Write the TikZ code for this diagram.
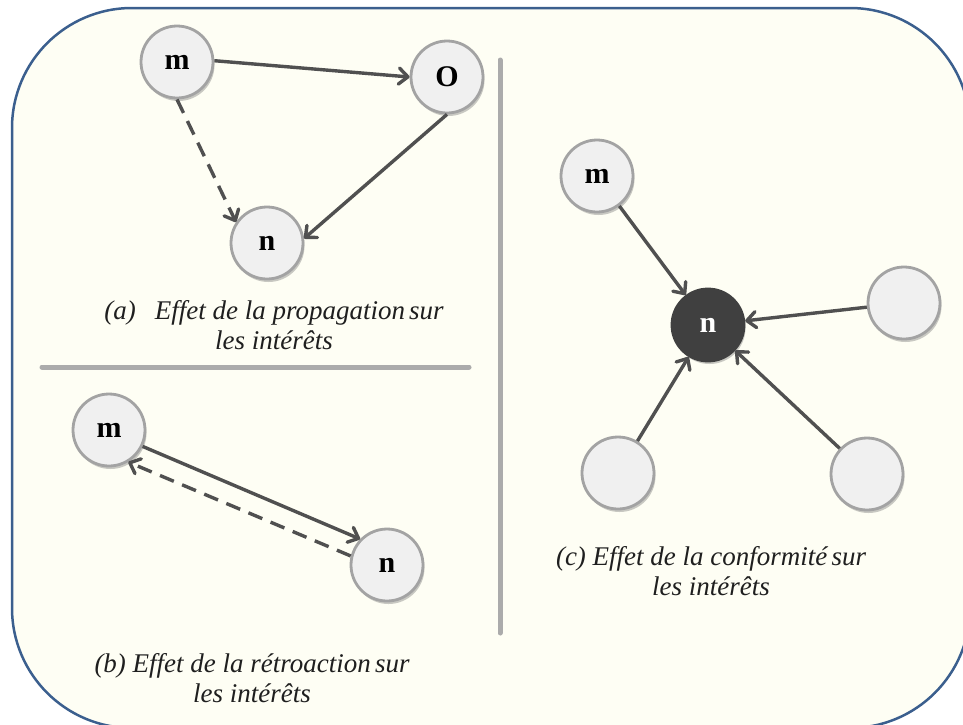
\documentclass[tikz,border=0pt]{standalone}
\usepackage{fontspec}
\setmainfont{Liberation Serif}
\usetikzlibrary{arrows.meta,shadows}
\definecolor{framec}{HTML}{3B5F8E}
\definecolor{paperc}{HTML}{FEFEF4}
\definecolor{nodefillc}{HTML}{F0F0F0}
\definecolor{nodelinec}{HTML}{A3A3A3}
\definecolor{edgec}{HTML}{505050}
\definecolor{sepc}{HTML}{ABABAB}
\definecolor{darkc}{HTML}{404040}
\newcommand{\tsp}{\hspace{0.15em}}
\begin{document}
\begin{tikzpicture}[x=1pt,y=-1pt,
  vert/.style={circle, minimum size=72pt, inner sep=0pt, fill=nodefillc, draw=nodelinec, line width=2.8pt,
    font=\fontsize{30}{32}\selectfont\bfseries,
    drop shadow={shadow xshift=1.5pt, shadow yshift=-3pt, opacity=0.35, fill=black!60}},
  hub/.style={vert, fill=darkc, draw=darkc, text=white},
  link/.style={draw=edgec, line width=3.4pt, -{Straight Barb[length=9pt,width=16pt,round]}},
  dlink/.style={link, dash pattern=on 15pt off 9pt},
  capt/.style={font=\fontsize{27}{30}\selectfont\itshape, align=center, text=black!88},
  sepline/.style={draw=sepc, line width=5pt, line cap=round}]
\useasboundingbox (0,0) rectangle (963,724);
\clip (0,0) rectangle (963,724);
\draw[framec, line width=2.5pt, fill=paperc, rounded corners=120pt] (12,8) rectangle (970,728);

% separators
\coordinate (h1) at (42,367);
\coordinate (h2) at (469,367);
\coordinate (v1) at (500,60);
\coordinate (v2) at (500,633);
\draw[sepline] (h1) -- (h2);
\draw[sepline] (v1) -- (v2);

% panel (a)
\node[vert] (ma) at (177,62) {m};
\node[vert] (oa) at (447,77) {O};
\node[vert] (na) at (267,243) {n};
\draw[link] (ma.2) -- (oa.180);
\draw[dlink] (ma.-90) -- (na.146);
\draw[link] (oa.-90) -- (na.7);
\node[capt] (capa) at (274,325) {(a)\hspace{0.7em}Effet de la propagation\tsp sur\\les intérêts};

% panel (b)
\node[vert] (mb) at (109,430) {m};
\node[vert] (nb) at (387,565) {n};
\draw[link] (mb.-26) -- (nb.136);
\draw[dlink] (nb.166) -- (mb.-59);
\node[capt] (capb) at (252,678) {(b) Effet de la rétroaction\tsp sur\\les intérêts};

% panel (c)
\node[vert] (mc) at (597,176) {m};
\node[hub] (nc) at (708,325) {n};
\node[vert] (r1) at (904,303) {};
\node[vert] (r2) at (618,473) {};
\node[vert] (r3) at (867,474) {};
\draw[link] (mc) -- (nc);
\draw[link] (r1) -- (nc);
\draw[link] (r2) -- (nc);
\draw[link] (r3) -- (nc);
\node[capt] (capc) at (711,571) {(c) Effet de la conformité\tsp sur\\les intérêts};
\end{tikzpicture}
\end{document}
